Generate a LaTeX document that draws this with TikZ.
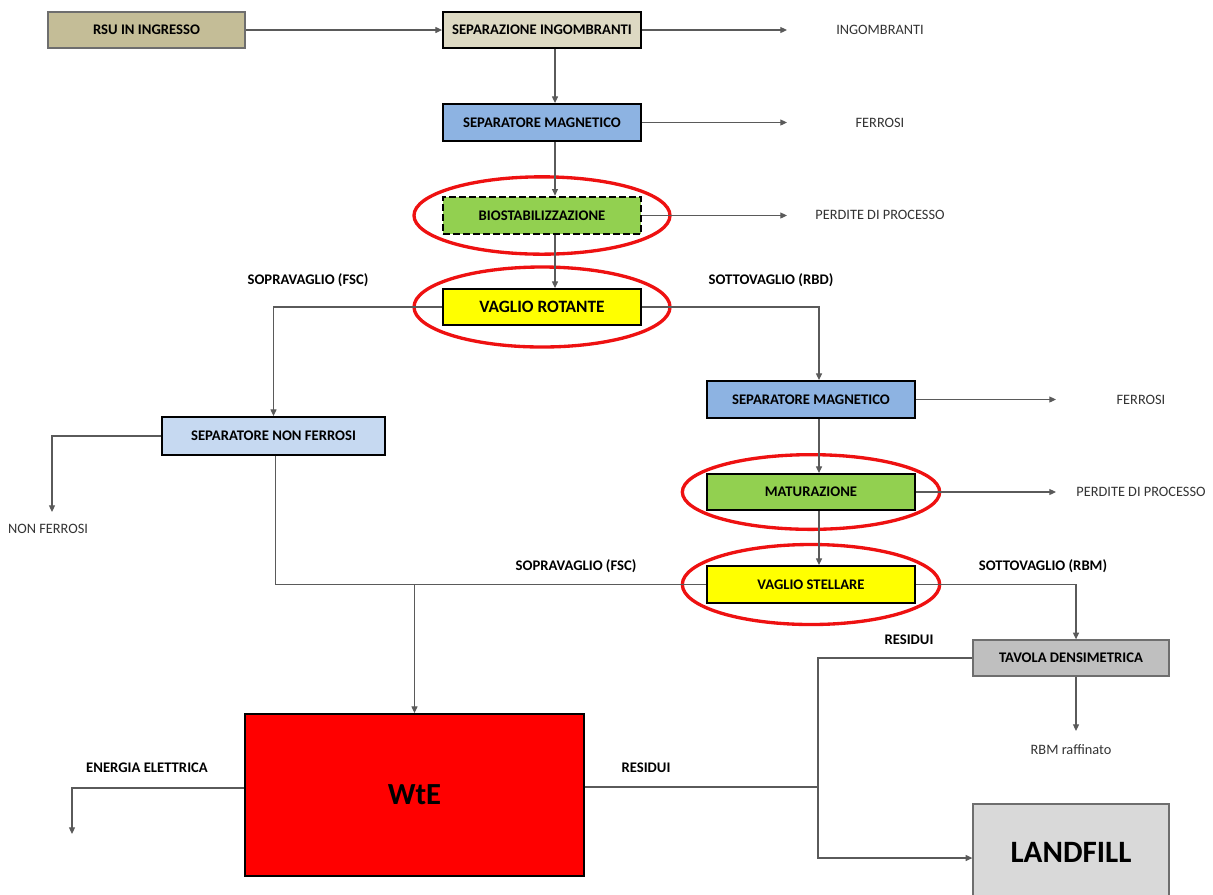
\documentclass[tikz,border=0pt]{standalone}
\usepackage{fontspec}
\setmainfont{Carlito}
\usetikzlibrary{arrows.meta,calc}

\definecolor{tanDark}{HTML}{C4BD97}
\definecolor{tanLight}{HTML}{DDD9C3}
\definecolor{magBlue}{HTML}{8DB3E2}
\definecolor{paleBlue}{HTML}{C6D9F1}
\definecolor{leafGreen}{HTML}{92D050}
\definecolor{brightYellow}{HTML}{FFFF00}
\definecolor{midGray}{HTML}{BFBFBF}
\definecolor{lightGray}{HTML}{D9D9D9}
\definecolor{wireGray}{HTML}{5A5A5A}
\definecolor{edgeGray}{HTML}{6E6E6E}
\definecolor{ringRed}{HTML}{EE1111}

\tikzset{
  procbox/.style={draw=black, line width=1.4pt, inner sep=0pt, align=center,
    font=\fontsize{11}{13}\selectfont\bfseries},
  softbox/.style={procbox, draw=edgeGray, line width=1pt},
  wire/.style={draw=wireGray, line width=0.8pt},
  flow/.style={wire, -{Triangle[length=5pt,width=4.5pt]}},
  outlabel/.style={font=\fontsize{10.75}{13}\selectfont, text=black!80},
  flowlabel/.style={font=\fontsize{11}{13}\selectfont\bfseries},
  ring/.style={draw=ringRed, line width=2.5pt},
}

\begin{document}
\begin{tikzpicture}[x=0.75pt,y=-0.75pt]
\useasboundingbox (0,0) rectangle (1213,894);

% vertical spines used by the straight-down flows
\coordinate (spine) at (555,0);
\coordinate (rcol) at (819,0);
\coordinate (tcol) at (1076,0);
\coordinate (rj) at (818,0);

% process boxes
\node[softbox, fill=tanDark, minimum width=147.75pt, minimum height=27pt] (rsu) at (146.5,30) {RSU IN INGRESSO};
\node[procbox, fill=tanLight, minimum width=148.5pt, minimum height=27pt] (sepIng) at (542,30) {SEPARAZIONE INGOMBRANTI};
\node[procbox, fill=magBlue, minimum width=148.5pt, minimum height=27.75pt] (sepMag) at (542,122.5) {SEPARATORE MAGNETICO};
\node[procbox, fill=leafGreen, dashed, dash pattern=on 5pt off 2.5pt, line width=2pt, minimum width=148.5pt, minimum height=27.75pt] (bio) at (542,215.5) {BIOSTABILIZZAZIONE};
\node[procbox, fill=brightYellow, minimum width=148.5pt, minimum height=27pt, font=\fontsize{13}{15}\selectfont\bfseries] (vr) at (542,307) {VAGLIO ROTANTE};
\node[procbox, fill=magBlue, minimum width=156pt, minimum height=27.75pt] (sepMag2) at (811,399.5) {SEPARATORE MAGNETICO};
\node[procbox, fill=paleBlue, minimum width=167.25pt, minimum height=28.5pt] (snf) at (273.5,436) {SEPARATORE NON FERROSI};
\node[procbox, fill=leafGreen, minimum width=156pt, minimum height=27pt] (mat) at (811,492) {MATURAZIONE};
\node[procbox, fill=brightYellow, minimum width=156pt, minimum height=27.75pt] (vs) at (811,584.5) {VAGLIO STELLARE};
\node[softbox, fill=midGray, minimum width=147pt, minimum height=27pt] (tav) at (1071,658) {TAVOLA DENSIMETRICA};
\node[procbox, fill=red, minimum width=254.25pt, minimum height=121.5pt, font=\fontsize{23}{26}\selectfont\bfseries] (wte) at (414.5,795) {WtE};
\node[softbox, fill=lightGray, minimum width=147pt, minimum height=75pt, font=\fontsize{23.3}{26}\selectfont\bfseries,
  text depth=3pt] (lf) at (1071,854) {LANDFILL};

% red highlight rings
\draw[ring] (bio.center) ellipse [x radius=96pt, y radius=29pt];
\draw[ring] (vr.center) ellipse [x radius=96pt, y radius=30pt];
\draw[ring] (mat.center) ellipse [x radius=96.5pt, y radius=28pt];
\draw[ring] (vs.center) ellipse [x radius=96.5pt, y radius=30pt];

% free ends of the outgoing flows
\coordinate (ingOut) at (787,30);
\coordinate (ferOut) at (787,123);
\coordinate (perOut) at (787,215);
\coordinate (fer2Out) at (1056,400);
\coordinate (per2Out) at (1056,492);
\coordinate (nfOut) at (52,512);
\coordinate (rbmOut) at (1076,731);
\coordinate (eeOut) at (72,834);

% main line
\draw[flow] (rsu.east) -- (sepIng.west);
\draw[flow] (sepIng.east) -- (sepIng.east -| ingOut);
\draw[flow] (sepIng.south -| spine) -- (sepMag.north -| spine);
\draw[flow] (sepMag.east) -- (sepMag.east -| ferOut);
\draw[flow] (sepMag.south -| spine) -- (bio.north -| spine);
\draw[flow] (bio.east) -- (bio.east -| perOut);
\draw[flow] (bio.south -| spine) -- (vr.north -| spine);

% rotary screen outputs
\draw[flow] (vr.west) -| (snf.north);
\draw[flow] (vr.east) -| (sepMag2.north -| rcol);

% right branch
\draw[flow] (sepMag2.east) -- (sepMag2.east -| fer2Out);
\draw[flow] (sepMag2.south -| rcol) -- (mat.north -| rcol);
\draw[flow] (mat.east) -- (mat.east -| per2Out);
\draw[flow] (mat.south -| rcol) -- (vs.north -| rcol);

% non-ferrous separator
\draw[flow] (snf.west) -| (nfOut);
\draw[wire] ([xshift=1.5pt]snf.south) |- (vs.west);
\draw[flow] (wte.north |- vs.west) -- (wte.north);

% star screen undersize and density table
\draw[flow] (vs.east) -| (tav.north -| tcol);
\draw[flow] (tav.south -| tcol) -- (rbmOut);
\draw[flow] (tav.west) -| ([yshift=-3pt]lf.west -| rj) -- ([yshift=-3pt]lf.west);

% WtE outputs
\draw[wire] ([yshift=6pt]wte.east) -- ([yshift=6pt]wte.east -| rj);
\draw[flow] ([yshift=5.25pt]wte.west) -| (eeOut);

% stream labels
\node[outlabel] (lIng) at (880,30) {INGOMBRANTI};
\node[outlabel] (lFer) at (880,123) {FERROSI};
\node[outlabel] (lPer) at (880,215) {PERDITE DI PROCESSO};
\node[flowlabel] (lSopra1) at (308,280) {SOPRAVAGLIO (FSC)};
\node[flowlabel] (lSotto1) at (771,280) {SOTTOVAGLIO (RBD)};
\node[outlabel] (lFer2) at (1141,400) {FERROSI};
\node[outlabel] (lNf) at (48,529) {NON FERROSI};
\node[outlabel] (lPer2) at (1141,492) {PERDITE DI PROCESSO};
\node[flowlabel] (lSopra2) at (576,566) {SOPRAVAGLIO (FSC)};
\node[flowlabel] (lSotto2) at (1043,566) {SOTTOVAGLIO (RBM)};
\node[flowlabel] (lRes1) at (909,640) {RESIDUI};
\node[outlabel] (lRbm) at (1071,750) {RBM raffinato};
\node[flowlabel] (lEe) at (147,768) {ENERGIA ELETTRICA};
\node[flowlabel] (lRes2) at (646,768) {RESIDUI};
\end{tikzpicture}
\end{document}
